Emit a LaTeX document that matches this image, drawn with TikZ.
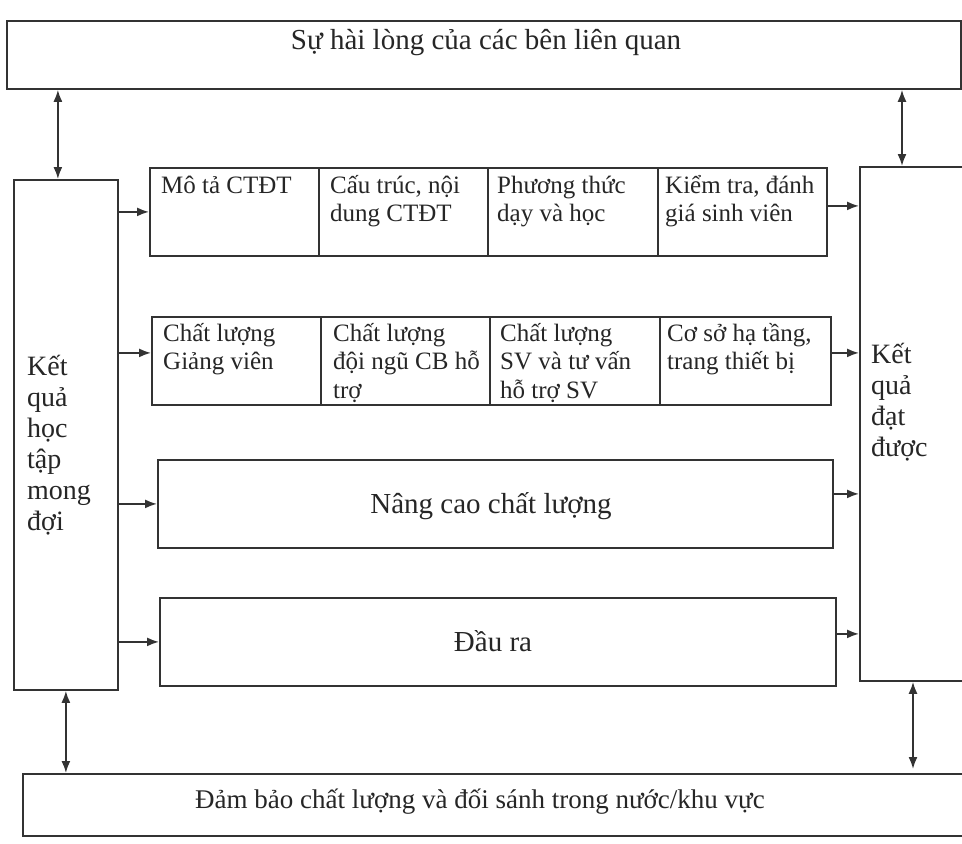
\documentclass[tikz,border=0pt]{standalone}
\usepackage{fontspec}
\setmainfont{Liberation Serif}
\usetikzlibrary{arrows.meta}
\tikzset{mytip/.tip={Latex[length=12pt,width=9pt]}}
\begin{document}
\begin{tikzpicture}[x=1pt,y=-1pt,
  box/.style={draw=black!80, line width=1.8pt, rectangle, inner sep=0pt, anchor=north west},
  celltext/.style={anchor=north west, inner sep=0pt, align=left, text=black!85, font=\fontsize{25}{28.5}\selectfont},
  bigtext/.style={anchor=base, inner sep=0pt, text=black!85, font=\fontsize{29}{33}\selectfont},
  bottext/.style={anchor=base, inner sep=0pt, text=black!85, font=\fontsize{27}{31}\selectfont},
  sidetext/.style={anchor=north west, inner sep=0pt, align=left, text=black!85, font=\fontsize{28}{31}\selectfont},
  arr/.style={line width=1.8pt, draw=black!80, -mytip},
  darr/.style={line width=1.8pt, draw=black!80, mytip-mytip},
]
\useasboundingbox (0,0) rectangle (962,844);
\fill[white] (0,0) rectangle (962,844);

% outer boxes
\node[box, minimum width=954pt, minimum height=68pt] (top) at (6,20) {};
\node[bigtext] (toptxt) at (486,49) {Sự hài lòng của các bên liên quan};

\node[box, minimum width=104pt, minimum height=510pt] (L) at (13,179) {};
\node[sidetext] (Ltxt) at (27,350) {\vphantom{Ấ}Kết\\quả\\học\\tập\\mong\\đợi};

\node[box, minimum width=120pt, minimum height=514pt] (R) at (859,166) {};
\node[sidetext] (Rtxt) at (871,338) {\vphantom{Ấ}Kết\\quả\\đạt\\được};

\node[box, minimum width=960pt, minimum height=62pt] (B) at (22,773) {};
\node[bottext] (Btxt) at (480,808) {Đảm bảo chất lượng và đối sánh trong nước/khu vực};

% row 1
\node[box, minimum width=169pt, minimum height=88pt] (c11) at (149,167) {};
\node[box, minimum width=169pt, minimum height=88pt] (c12) at (318,167) {};
\node[box, minimum width=170pt, minimum height=88pt] (c13) at (487,167) {};
\node[box, minimum width=169pt, minimum height=88pt] (c14) at (657,167) {};
\node[celltext] (t11) at (161,171) {\vphantom{Ấ}Mô tả CTĐT};
\node[celltext] (t12) at (330,171) {\vphantom{Ấ}Cấu trúc, nội\\dung CTĐT};
\node[celltext] (t13) at (497,171) {\vphantom{Ấ}Phương thức\\dạy và học};
\node[celltext] (t14) at (665,171) {\vphantom{Ấ}Kiểm tra, đánh\\giá sinh viên};

% row 2
\node[box, minimum width=169pt, minimum height=88pt] (c21) at (151,316) {};
\node[box, minimum width=169pt, minimum height=88pt] (c22) at (320,316) {};
\node[box, minimum width=170pt, minimum height=88pt] (c23) at (489,316) {};
\node[box, minimum width=171pt, minimum height=88pt] (c24) at (659,316) {};
\node[celltext] (t21) at (163,319) {\vphantom{Ấ}Chất lượng\\Giảng viên};
\node[celltext] (t22) at (333,319) {\vphantom{Ấ}Chất lượng\\đội ngũ CB hỗ\\trợ};
\node[celltext] (t23) at (500,319) {\vphantom{Ấ}Chất lượng\\SV và tư vấn\\hỗ trợ SV};
\node[celltext] (t24) at (667,319) {\vphantom{Ấ}Cơ sở hạ tầng,\\trang thiết bị};

% wide boxes
\node[box, minimum width=675pt, minimum height=88pt] (N) at (157,459) {};
\node[bigtext] (Ntxt) at (491,513) {Nâng cao chất lượng};
\node[box, minimum width=676pt, minimum height=88pt] (D) at (159,597) {};
\node[bigtext] (Dtxt) at (493,651) {Đầu ra};

% arrows from left box
\draw[arr] (L.east |- c11.west) -- (c11.west);
\draw[arr] ([yshift=8pt]c21.west -| L.east) -- ([yshift=8pt]c21.west);
\draw[arr] (L.east |- N.west) -- (N.west);
\draw[arr] (L.east |- D.west) -- (D.west);

% arrows to right box
\draw[arr] ([yshift=6pt]c14.east) -- ([yshift=6pt]c14.east -| R.west);
\draw[arr] ([yshift=8pt]c24.east) -- ([yshift=8pt]c24.east -| R.west);
\draw[arr] ([yshift=10pt]N.east) -- ([yshift=10pt]N.east -| R.west);
\draw[arr] ([yshift=8pt]D.east) -- ([yshift=8pt]D.east -| R.west);

% vertical double arrows
\coordinate (la) at ([xshift=-8pt]L.north);
\draw[darr] (la |- top.south) -- (la);
\coordinate (ra) at ([xshift=43pt]R.north west);
\draw[darr] (ra |- top.south) -- (ra);
\draw[darr] (L.south) -- (L.south |- B.north);
\coordinate (rb) at ([xshift=54pt]R.south west);
\draw[darr] (rb) -- ([yshift=4pt]rb |- B.north);
\end{tikzpicture}
\end{document}
